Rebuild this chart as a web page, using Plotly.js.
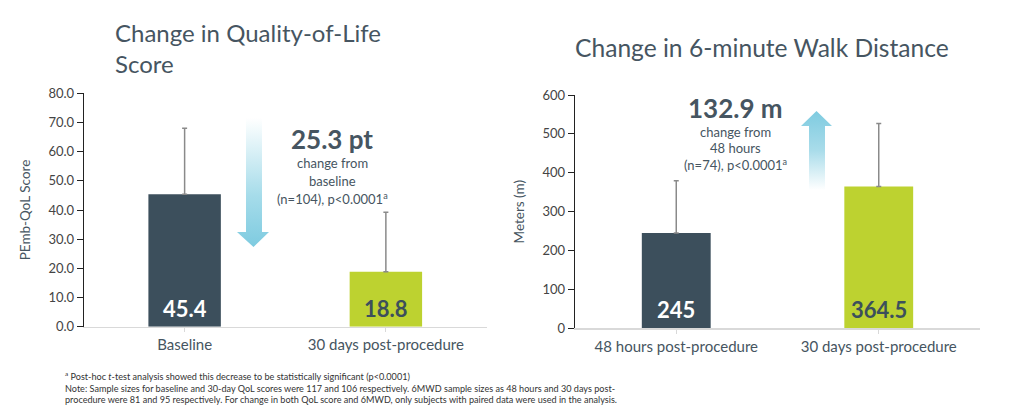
<!DOCTYPE html>
<html>
<head>
<meta charset="utf-8">
<script src="https://cdn.plot.ly/plotly-3.0.1.min.js"></script>
<style>html,body{margin:0;padding:0;background:#fff;}#chart{width:1010px;height:415px;}</style>
</head>
<body>
<div id="chart"></div>
<script>
// ---- data ----
var qolCategories = ["Baseline", "30 days post-procedure"];
var qolValues = [45.4, 18.8];
var qolErrors = [22.6, 20.4];
var qolLabels = ["45.4", "18.8"];

var walkCategories = ["48 hours post-procedure", "30 days post-procedure"];
var walkValues = [245, 364.5];
var walkErrors = [134.5, 162.5];
var walkLabels = ["245", "364.5"];

var qolTicks = [0, 10, 20, 30, 40, 50, 60, 70, 80];
var qolTickText = ["0.0","10.0","20.0","30.0","40.0","50.0","60.0","70.0","80.0"];
var walkTicks = [0, 100, 200, 300, 400, 500, 600];

// ---- style ----
var barColors = ["#3c4f5c", "#bdd230"];
var labelColors = ["#ffffff", "#3c4f5c"];
var textColor = "#465561";
var FONT = "Lato, 'Open Sans', sans-serif";
var W = 1010, H = 415;

// decorative arrows (pixel space overlay)
var downArrow = {x:[246,262,262,269,253.5,237,246,246], y:[118,118,232,232,247,232,232,118]};
var upArrow = {x:[809,825,825,832,816.5,801,809,809], y:[190,190,126,126,111,126,126,190]};

var traces = [
  {type:"bar", x:qolCategories, y:qolValues, xaxis:"x", yaxis:"y", width:0.36,
   marker:{color:barColors}, hoverinfo:"skip",
   error_y:{type:"data", symmetric:false, array:qolErrors, arrayminus:[0,0], color:"#8a8a8a", thickness:1.5, width:2.5}},
  {type:"bar", x:walkCategories, y:walkValues, xaxis:"x2", yaxis:"y2", width:0.34,
   marker:{color:barColors}, hoverinfo:"skip",
   error_y:{type:"data", symmetric:false, array:walkErrors, arrayminus:[0,0], color:"#8a8a8a", thickness:1.5, width:2.5}},
  {type:"scatter", mode:"lines", x:downArrow.x, y:downArrow.y, xaxis:"x3", yaxis:"y3",
   fill:"toself", line:{width:0, color:"rgba(0,0,0,0)"}, hoverinfo:"skip",
   fillgradient:{type:"vertical", colorscale:[[0,"#7ecbe0"],[0.4,"#a6dcea"],[1,"rgba(255,255,255,1)"]]}},
  {type:"scatter", mode:"lines", x:upArrow.x, y:upArrow.y, xaxis:"x3", yaxis:"y3",
   fill:"toself", line:{width:0, color:"rgba(0,0,0,0)"}, hoverinfo:"skip",
   fillgradient:{type:"vertical", colorscale:[[0,"rgba(255,255,255,1)"],[0.5,"#a9dcea"],[1,"#7ecbe0"]]}}
];

var annotations = [];
qolCategories.forEach(function(c,i){
  annotations.push({xref:"x", yref:"y", x:c, y:0, yanchor:"bottom", yshift:3, showarrow:false,
    text:"<b>"+qolLabels[i]+"</b>", font:{family:FONT, size:22, color:labelColors[i]}});
});
walkCategories.forEach(function(c,i){
  annotations.push({xref:"x2", yref:"y2", x:c, y:0, yanchor:"bottom", yshift:3, showarrow:false,
    text:"<b>"+walkLabels[i]+"</b>", font:{family:FONT, size:22, color:labelColors[i]}});
});
function txt(x, y, text, size, bold){
  annotations.push({xref:"paper", yref:"paper", x:x/W, y:1-y/H, xanchor:"center", yanchor:"middle",
    showarrow:false, text: bold ? "<b>"+text+"</b>" : text, font:{family:FONT, size:size, color:textColor}});
}
// titles
annotations.push({xref:"paper", yref:"paper", x:113/W, y:1-16/H, xanchor:"left", yanchor:"top", align:"left",
  showarrow:false, text:"Change in Quality-of-Life<br>Score", font:{family:FONT, size:24, color:textColor}});
annotations.push({xref:"paper", yref:"paper", x:573/W, y:1-31/H, xanchor:"left", yanchor:"top", align:"left",
  showarrow:false, text:"Change in 6-minute Walk Distance", font:{family:FONT, size:24.6, color:textColor}});
// callouts
txt(332, 139, "25.3 pt", 26, true);
txt(332, 163, "change from", 13);
txt(332, 181, "baseline", 13);
txt(332, 199, "(n=104), p<0.0001<sup>a</sup>", 13);
txt(735, 108, "132.9 m", 26, true);
txt(735, 132, "change from", 13);
txt(735, 148, "48 hours", 13);
txt(735, 164, "(n=74), p<0.0001<sup>a</sup>", 13);
// footnote
annotations.push({xref:"paper", yref:"paper", x:63/W, y:1-368/H, xanchor:"left", yanchor:"top", align:"left",
  showarrow:false,
  text:"<sup>a</sup> Post-hoc <i>t</i>-test analysis showed this decrease to be statistically significant (p<0.0001)<br>Note: Sample sizes for baseline and 30-day QoL scores were 117 and 106 respectively. 6MWD sample sizes as 48 hours and 30 days post-<br>procedure were 81 and 95 respectively. For change in both QoL score and 6MWD, only subjects with paired data were used in the analysis.",
  font:{family:FONT, size:9.1, color:"#333333"}});

var yaxisCommon = {showgrid:false, zeroline:false, showline:true, linecolor:"#222", linewidth:1.3,
  ticks:"outside", ticklen:6, tickcolor:"#222", tickfont:{family:FONT, size:13, color:"#444"}, fixedrange:true};
var xaxisCommon = {showgrid:false, zeroline:false, showline:true, linecolor:"#d9d9d9", linewidth:1.5,
  ticks:"outside", ticklen:4, tickcolor:"#d9d9d9", tickfont:{family:FONT, size:15, color:textColor}, fixedrange:true};

var layout = {
  width:W, height:H, margin:{l:0, r:0, t:0, b:0}, paper_bgcolor:"#fff", plot_bgcolor:"rgba(0,0,0,0)",
  showlegend:false, font:{family:FONT, color:textColor},
  xaxis:Object.assign({}, xaxisCommon, {domain:[84/W, 486.5/W], range:[-0.5,1.5], anchor:"y"}),
  yaxis:Object.assign({}, yaxisCommon, {domain:[(H-326.7)/H, (H-93.3)/H], range:[0,80], anchor:"x",
    tickvals:qolTicks, ticktext:qolTickText,
    title:{text:"PEmb-QoL Score", standoff:14, font:{family:FONT, size:13.5, color:textColor}}}),
  xaxis2:Object.assign({}, xaxisCommon, {domain:[575/W, 980/W], range:[-0.5,1.5], anchor:"y2"}),
  yaxis2:Object.assign({}, yaxisCommon, {domain:[(H-328.3)/H, (H-95)/H], range:[0,600], anchor:"x2",
    tickvals:walkTicks,
    title:{text:"Meters (m)", standoff:14, font:{family:FONT, size:13.5, color:textColor}}}),
  xaxis3:{domain:[0,1], range:[0,W], visible:false, fixedrange:true, anchor:"y3"},
  yaxis3:{domain:[0,1], range:[H,0], visible:false, fixedrange:true, anchor:"x3"},
  annotations:annotations
};

Plotly.newPlot("chart", traces, layout, {staticPlot:true, displayModeBar:false});
</script>
</body>
</html>
